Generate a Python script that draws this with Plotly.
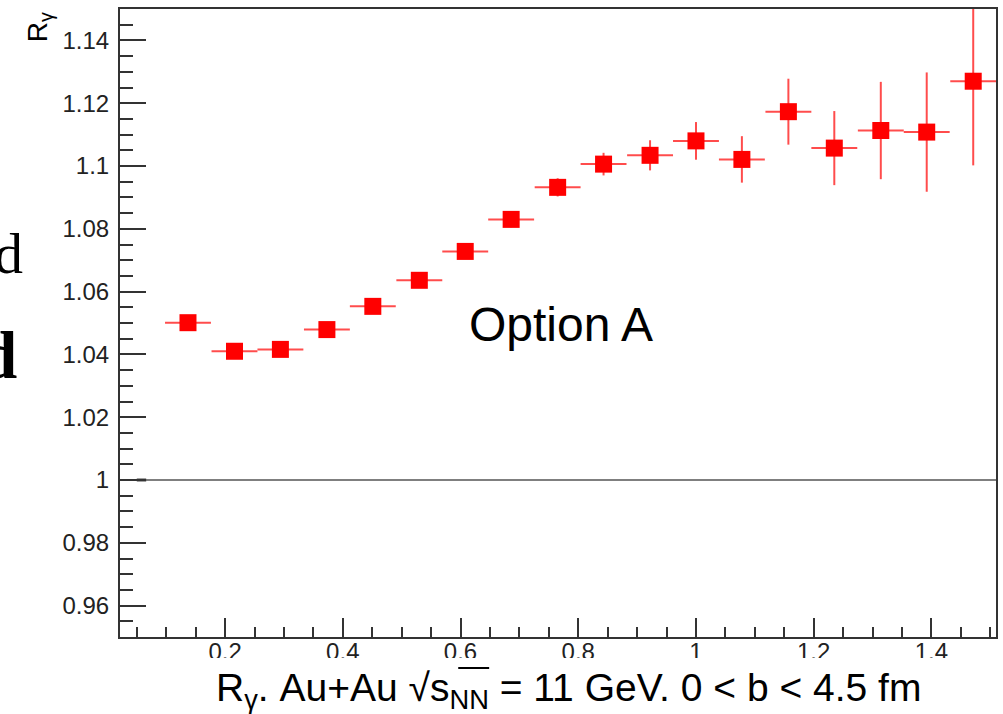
import plotly.graph_objects as go

# ---- data ----
x_centers = [0.137, 0.216, 0.294, 0.373, 0.451, 0.530, 0.608, 0.686, 0.765,
             0.843, 0.922, 1.000, 1.078, 1.157, 1.235, 1.314, 1.392, 1.471]
r_gamma = [1.0501, 1.0410, 1.0416, 1.0479, 1.0553, 1.0636, 1.0728, 1.0830, 1.0932,
           1.1006, 1.1034, 1.1080, 1.1021, 1.1173, 1.1057, 1.1113, 1.1108, 1.1270]
r_err = [0.0008, 0.0008, 0.0010, 0.0012, 0.0014, 0.0016, 0.0020, 0.0025, 0.0029,
         0.0036, 0.0048, 0.0060, 0.0074, 0.0105, 0.0118, 0.0155, 0.0190, 0.0268]
x_half_width = [0.039] * len(x_centers)

y_tickvals = [0.96, 0.98, 1.00, 1.02, 1.04, 1.06, 1.08, 1.10, 1.12, 1.14]
y_ticktext = ["0.96", "0.98", "1", "1.02", "1.04", "1.06", "1.08", "1.1", "1.12", "1.14"]
x_tickvals = [0.2, 0.4, 0.6, 0.8, 1.0, 1.2, 1.4]
x_ticktext = ["0.2", "0.4", "0.6", "0.8", "1", "1.2", "1.4"]
reference_level = 1.0
empty_bin_x = [0.05, 0.066]

FONT = "Liberation Sans, Arial, sans-serif"
SERIF = "Liberation Serif, Times New Roman, serif"
W, H = 1003, 714
ML, MR, MT, MB = 120, 5, 9, 77
PW, PH = W - ML - MR, H - MT - MB

def px(x):
    return (x - ML) / PW

def py(y):
    return 1 - (y - MT) / PH

fig = go.Figure()
fig.add_trace(go.Scatter(
    x=x_centers, y=r_gamma, mode="markers",
    marker=dict(symbol="square", size=17, color="#ff0000", line=dict(width=0)),
    error_y=dict(type="data", array=r_err, visible=True, width=0,
                 thickness=2, color="rgba(255,0,0,0.7)"),
    error_x=dict(type="data", array=x_half_width, visible=True, width=0,
                 thickness=2, color="rgba(255,0,0,0.7)"),
    showlegend=False, cliponaxis=True,
))

# reference line at 1
fig.add_shape(type="line", xref="paper", yref="y", x0=0, x1=1,
              y0=reference_level, y1=reference_level,
              line=dict(color="#555555", width=1.6), layer="below")
fig.add_shape(type="line", xref="x", yref="y", x0=empty_bin_x[0], x1=empty_bin_x[1],
              y0=reference_level, y1=reference_level,
              line=dict(color="#444444", width=3), layer="below")

tickfont = dict(family=FONT, size=24, color="#222222")
fig.update_xaxes(range=[0.0215, 1.5097], tickvals=x_tickvals, ticktext=x_ticktext,
                 ticks="inside", ticklen=19, tickwidth=1.5, tickcolor="#333333",
                 minor=dict(dtick=0.05, tick0=0, ticks="inside", ticklen=10,
                            tickwidth=1.5, tickcolor="#333333"),
                 showline=True, linecolor="#333333", linewidth=2, mirror=True,
                 showgrid=False, zeroline=False, tickfont=tickfont,
                 ticklabelstandoff=-8)
fig.update_yaxes(range=[0.95, 1.15], tickvals=y_tickvals, ticktext=y_ticktext,
                 ticks="inside", ticklen=26, tickwidth=1.5, tickcolor="#333333",
                 minor=dict(dtick=0.005, tick0=0, ticks="inside", ticklen=13,
                            tickwidth=1.5, tickcolor="#333333"),
                 showline=True, linecolor="#333333", linewidth=2, mirror=True,
                 showgrid=False, zeroline=False, tickfont=tickfont,
                 ticklabelstandoff=4)

# white cover over the bottom of the x tick labels (as in the reference)
fig.add_shape(type="rect", xref="paper", yref="paper",
              x0=px(0), x1=px(W), y0=py(658), y1=py(H + 5),
              fillcolor="white", line=dict(width=0), layer="above")
# radical bar over s_NN
fig.add_shape(type="line", xref="paper", yref="paper",
              x0=px(459), x1=px(490), y0=py(668), y1=py(668),
              line=dict(color="#000000", width=2), layer="above")

annotations = [
    dict(text="R<sub>γ</sub>. Au+Au √s<sub>NN</sub> = 11 GeV. 0 &lt; b &lt; 4.5 fm",
         x=px(570), y=py(690), xanchor="center", yanchor="middle",
         font=dict(family=FONT, size=39, color="#000000")),
    dict(text="Option A", x=px(468), y=py(324), xanchor="left", yanchor="middle",
         font=dict(family=FONT, size=48, color="#000000")),
    dict(text="R<sub>γ</sub>", textangle=-90, x=px(40), y=py(27),
         xanchor="center", yanchor="middle",
         font=dict(family=FONT, size=28, color="#000000")),
    dict(text="d", x=px(25), y=py(253), xanchor="right", yanchor="middle",
         font=dict(family=SERIF, size=58, color="#000000")),
    dict(text="<b>d</b>", x=px(19), y=py(355), xanchor="right", yanchor="middle",
         font=dict(family=SERIF, size=67, color="#000000")),
]
for a in annotations:
    a.update(xref="paper", yref="paper", showarrow=False)
fig.update_layout(annotations=annotations)

fig.update_layout(width=W, height=H, margin=dict(l=ML, r=MR, t=MT, b=MB),
                  paper_bgcolor="white", plot_bgcolor="white",
                  font=dict(family=FONT))
fig.write_html("out.html")
